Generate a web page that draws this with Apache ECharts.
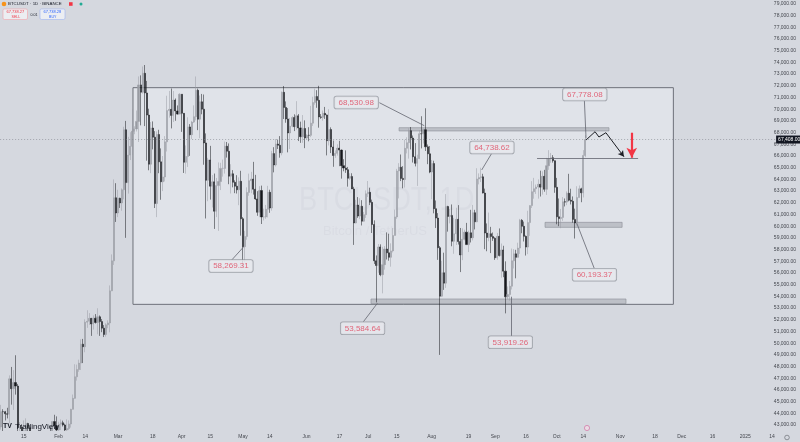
<!DOCTYPE html>
<html><head><meta charset="utf-8">
<script src="https://cdn.jsdelivr.net/npm/echarts@6/dist/echarts.min.js"></script>
<style>html,body{margin:0;padding:0;background:#d5d8df;}#c{width:800px;height:442px;}</style>
</head><body><div id="c"></div>
<script>
// ---- categories ----
const startDate = '2024-01-04';
const nDays = 379;
// ---- daily candles [open, high, low, close] ----
const jan = [[42845,44729,42613,44151],[44151,44357,42450,44145],[44145,44214,43397,43968],[43968,44480,43572,43929],[43929,47248,43175,46951],[46951,47972,44748,46110],[46110,47695,44300,46633],[46633,48969,45606,46339],[46339,46516,41500,42782],[42782,43257,42436,42847],[42847,43079,41720,41732],[41732,43400,41718,42511],[42511,43578,42050,43137],[43137,43198,42200,42776],[42776,42930,40683,41262],[41262,42196,40280,41618],[41618,41876,41446,41665],[41665,41889,41500,41545],[41545,41689,39431,39507],[39507,40129,38555,39845],[39845,40555,39484,40077],[40077,40300,39260,39934],[39934,42246,39822,41816],[41816,42200,41395,42120],[42120,42842,41620,42031],[42031,43305,41804,43302],[43302,43882,42683,42941],[42941,43745,42276,42580]];
const feb = [[42580,43285,41884,43082],[43082,43488,42574,43200],[43200,43380,42880,43011],[43011,43119,42222,42582],[42582,43494,42258,42708],[42708,43399,42574,43098],[43098,44396,42788,44349],[44349,45614,44331,45288],[45288,48200,45242,47132],[47132,48170,46800,47751],[47751,48592,47557,48300],[48300,50334,47710,49917],[49917,50368,48300,49699],[49699,52043,49225,51795],[51795,52816,51314,51880],[51880,52572,51566,52124],[52124,52163,50625,51642],[51642,52377,51163,52137],[52137,52488,51677,51774],[51774,52985,50760,52258],[52258,52371,50625,51849],[51849,52065,50940,51288],[51288,51548,50525,50745],[50745,51706,50561,51571],[51571,51955,51281,51733],[51733,54938,50931,54477],[54477,57588,54450,57037],[57037,64000,56691,62432],[62432,63676,60364,61130]];
const mar = [[61130,63114,60777,62387],[62387,62433,61561,61987],[61987,63231,61320,63113],[63113,68499,62300,68245],[68245,69000,59005,63725],[63725,67638,62787,66075],[66075,68029,65655,66823],[66823,69990,66082,68124],[68124,68541,67861,68313],[68313,69887,68094,68955],[68955,72800,67194,72078],[72078,72890,68620,71452],[71452,73650,71333,73072],[73072,73777,68555,71388],[71388,72419,65600,69499],[69499,70043,64780,65300],[65300,68904,64533,68393],[68393,68956,66566,67609],[67609,68124,61555,61937],[61937,68100,60775,67840],[67840,68240,64529,65501],[65501,66650,62260,63797],[63797,65999,63000,64209],[64209,67700,63825,67211],[67211,71150,66385,69880],[69880,71561,69280,69988],[69988,71769,68359,69469],[69469,71552,68903,70780],[70780,70916,69009,69850],[69850,70321,69540,69582],[69582,71366,69562,71280]];
const apr = [[71280,71288,68062,69649],[69649,69674,64550,65463],[65463,66903,64493,65963],[65963,69309,65064,68488],[68488,68725,66011,67820],[67820,69000,67447,68896],[68896,70326,68824,69360],[69360,72797,69043,71620],[71620,71758,68210,69146],[69146,71172,67518,70631],[70631,71305,69567,70006],[70006,71256,65254,67116],[67116,67931,60660,63924],[63924,65840,62134,65661],[65661,66867,62274,63419],[63419,64365,61600,63793],[63793,64499,59768,61277],[61277,64125,60775,63470],[63470,65450,59600,63818],[63818,65419,63090,64941],[64941,65695,64237,64941],[64941,67233,64500,66837],[66837,67199,65864,66407],[66407,67075,63589,64276],[64276,65297,62794,64481],[64481,64792,63322,63755],[63755,63923,62824,63419],[63419,64360,62793,63113],[63113,64174,61795,63841],[63841,64734,59191,60636]];
const may = [[60636,60780,56552,58254],[58254,59602,56937,59123],[59123,63320,58848,62889],[62889,64494,62599,63891],[63891,64646,62822,64031],[64031,65500,62700,63161],[63161,64390,62250,62334],[62334,62995,60888,61188],[61188,63421,60769,63049],[63049,63469,60187,60793],[60793,61500,60492,60793],[60793,61818,60632,61448],[61448,63450,60750,62901],[62901,63118,61142,61552],[61552,66444,61330,66206],[66206,66752,64602,65235],[65235,67451,65106,67024],[67024,67400,66600,66915],[66915,67700,65857,66274],[66274,71515,66060,71446],[71446,71979,69162,70148],[70148,70666,68842,69166],[69166,70096,66312,67969],[67969,69250,66600,68549],[68549,69400,68460,69290],[69290,69562,68128,68508],[68508,70687,68250,69436],[69436,69591,67277,68398],[68398,68935,67124,67652],[67652,69500,67128,68352],[68352,69044,66670,67540]];
const jun = [[67540,67861,67445,67766],[67766,68460,67257,67765],[67765,70288,67612,68809],[68809,71063,68567,70567],[70567,71758,70383,71082],[71082,71625,70119,70757],[70757,71997,68420,69342],[69342,69582,69180,69305],[69305,69887,69018,69648],[69648,70195,69172,69508],[69508,69549,66051,67313],[67313,69999,66902,68263],[68263,68449,66251,66773],[66773,67320,65078,66043],[66043,66478,65840,66228],[66228,66998,66034,66676],[66676,67298,65130,66505],[66505,66556,64066,65175],[65175,65727,64693,64974],[64974,66482,64559,64828],[64828,65066,63379,64096],[64096,64521,63943,64252],[64252,64525,63178,63180],[63180,63369,58402,60277],[60277,62258,60239,61806],[61806,62487,60712,60864],[60864,62389,60606,61706],[61706,62225,60063,60427],[60427,61224,60383,60986],[60986,63058,60712,62772]];
const jul = [[62772,63861,62497,62900],[62900,63288,61806,62041],[62041,62273,59419,60145],[60145,60498,56771,57042],[57042,57500,53485,56639],[56639,58475,56018,58230],[58230,58449,55724,55857],[55857,58236,54260,56714],[56714,58296,56289,58051],[58051,59470,57157,57725],[57725,59359,57052,57340],[57340,58536,56542,57889],[57889,59850,57756,59204],[59204,61420,59204,60797],[60797,64900,60632,64724],[64724,65388,62373,65043],[65043,66128,63854,64087],[64087,65133,63238,63987],[63987,67386,63300,66660],[66660,67598,66222,67139],[67139,68366,65777,68165],[68165,68474,66559,67532],[67532,67750,65441,65936],[65936,67102,65111,65372],[65372,66112,63442,65777],[65777,68200,65732,67907],[67907,69399,66650,67896],[67896,68318,67066,68249],[68249,70079,66428,66784],[66784,66984,65302,66188],[66188,66849,64530,64628]];
const aug = [[64628,65659,62302,65354],[65354,65596,61100,61498],[61498,62198,59850,60697],[60697,61117,57122,58161],[58161,58305,49000,54018],[54018,57040,53962,56022],[56022,57736,54558,55134],[55134,62745,54730,61685],[61685,61744,59535,60837],[60837,61470,60242,60923],[60923,61858,58286,58712],[58712,60711,57642,59346],[59346,61578,58392,60587],[60587,61800,58433,58683],[58683,59849,56078,57541],[57541,59817,57098,58874],[58874,59700,58785,59491],[59491,60284,58408,58427],[58427,59617,57787,59438],[59438,61400,58610,59013],[59013,61820,58783,61156],[61156,61400,59724,60375],[60375,64955,60342,64037],[64037,64513,63574,64157],[64157,65000,63773,64220],[64220,64481,62800,62834],[62834,63212,58034,59415],[59415,60235,57860,59034],[59034,61166,58713,59359],[59359,59944,57701,59123],[59123,59462,58744,58973]];
const sep = [[58973,59054,57118,57301],[57301,59425,57128,59132],[59132,59809,57415,57487],[57487,58519,55606,57970],[57970,58327,55643,56160],[56160,56995,52550,53962],[53962,54850,53745,54160],[54160,55318,53629,54869],[54869,58088,54591,57042],[57042,58044,56386,57635],[57635,57981,55545,57338],[57338,58588,57325,58132],[58132,60625,57632,60498],[60498,60610,59400,59993],[59993,60395,58692,59132],[59132,59210,57493,58213],[58213,61320,57610,60309],[60309,61786,59174,61759],[61759,63850,61555,62947],[62947,64133,62350,63201],[63201,63559,62758,63348],[63348,64000,62357,63578],[63578,64745,62538,63339],[63339,64688,62700,64262],[64262,64817,62947,63152],[63152,65839,62670,65173],[65173,66498,64819,65769],[65769,66260,65422,65858],[65858,66076,65432,65602],[65602,65618,62856,63327]];
const oct = [[63327,64130,60164,60805],[60805,62370,60000,60649],[60649,61477,59828,60753],[60753,62484,60459,62086],[62086,62370,61689,62058],[62058,62975,61798,62819],[62819,64478,62128,62224],[62224,63200,61860,62132],[62132,62543,60300,60582],[60582,61500,58946,60274],[60274,63417,60061,62445],[62445,63480,62445,63193],[63193,63285,62050,62851],[62851,66500,62457,66046],[66046,67778,65900,67408]];
const lastPrice = 67408;
// ---- axis ticks ----
const xTickDates = ['2024-01-15','2024-02-01','2024-02-14','2024-03-01','2024-03-18','2024-04-01','2024-04-15','2024-05-01','2024-05-14','2024-06-01','2024-06-17','2024-07-01','2024-07-15','2024-08-01','2024-08-19','2024-09-01','2024-09-16','2024-10-01','2024-10-14','2024-11-01','2024-11-18','2024-12-01','2024-12-16','2025-01-01','2025-01-14'];
const xTickLabels = ['15','Feb','14','Mar','18','Apr','15','May','14','Jun','17','Jul','15','Aug','19','Sep','16','Oct','14','Nov','18','Dec','16','2025','14'];
const yMin = 42000, yMax = 79000, yStep = 1000;
// ---- drawings (x = bar index from startDate, y = price) ----
const boxX = [64.3, 327.9], boxY = [71840, 53320];
const zoneX1 = [194.1, 180.4, 265.3], zoneX2 = [296.5, 304.8, 302.9];
const zoneTop = [68420, 53780, 60330], zoneBottom = [68140, 53380, 59900];
const targetX = [261.4, 310.7], targetY = 65830;
const pathX = [285.3, 289.7, 291.6, 295.0, 303.8], pathY = [67367, 68076, 67623, 67991, 65939];
const arrowX = 307.6, arrowY = [67990, 65850];
const noteText = ['58,269.31','53,584.64','68,530.98','64,738.62','53,919.26','60,193.37','67,778.08'];
const noteX = [112.1, 176.3, 173.2, 239.4, 248.4, 289.4, 284.7];
const noteY = [56598, 51273, 70572, 66726, 50076, 55854, 71256];
const leadX1 = [112.6, 176.7, 184.5, 239.3, 248.6, 289.3, 284.5];
const leadY1 = [57136, 51837, 70555, 66230, 50615, 56401, 70726];
const leadX2 = [118.1, 183.5, 206.4, 234.4, 248.6, 280.8, 285.3];
const leadY2 = [58196, 53409, 68589, 64803, 53974, 60247, 67512];

// ---- build ----
const dates = [];
const t0 = Date.parse(startDate + 'T00:00:00Z');
for (let i = 0; i < nDays; i++) dates.push(new Date(t0 + i * 86400000).toISOString().slice(0, 10));
const candles = [].concat(jan, feb, mar, apr, may, jun, jul, aug, sep, oct).map(r => [r[0], r[3], r[2], r[1]]);
const tickMap = {};
xTickDates.forEach((d, i) => tickMap[d] = xTickLabels[i]);
const fmt = v => v.toLocaleString('en-US', {minimumFractionDigits: 2, maximumFractionDigits: 2});

const lineData = [];
for (let i = 0; i < noteX.length; i++) lineData.push([{coord: [leadX1[i], leadY1[i]]}, {coord: [leadX2[i], leadY2[i]]}]);
lineData.push([{coord: [targetX[0], targetY]}, {coord: [targetX[1], targetY]}]);
for (let i = 0; i < pathX.length - 1; i++) {
  const last = i === pathX.length - 2;
  lineData.push([{coord: [pathX[i], pathY[i]], lineStyle: {color: '#1c1e24', width: 1}},
                 {coord: [pathX[i + 1], pathY[i + 1]], symbol: last ? 'arrow' : 'none', symbolSize: [5, 6], lineStyle: {color: '#1c1e24', width: 1}}]);
}
lineData.push([{coord: [arrowX, arrowY[0]], lineStyle: {color: '#f23645', width: 2.2}},
               {coord: [arrowX, arrowY[1]], symbol: 'arrow', symbolSize: [8, 10], itemStyle: {color: '#f23645'}, lineStyle: {color: '#f23645', width: 2.2}}]);

const zones = zoneX1.map((x, i) => [{coord: [x, zoneTop[i]]}, {coord: [zoneX2[i], zoneBottom[i]]}]);

const FONT = 'Liberation Sans, Arial, sans-serif';
const chart = echarts.init(document.getElementById('c'), null, {renderer: 'canvas'});
chart.setOption({
  animation: false,
  backgroundColor: '#d5d8df',
  textStyle: {fontFamily: FONT},
  grid: {left: 0.125, right: 22.9, top: 3.9, bottom: 5.2},
  xAxis: [{
    type: 'category', data: dates, boundaryGap: true, z: 20,
    axisLine: {show: false}, axisTick: {show: false}, splitLine: {show: false},
    axisLabel: {interval: (i, v) => tickMap[v] !== undefined, formatter: v => tickMap[v] || '',
      fontSize: 5, color: '#45484f', margin: -3, hideOverlap: false}
  }, {
    type: 'value', min: -0.5, max: nDays - 0.5, show: false
  }],
  yAxis: {
    type: 'value', position: 'right', min: yMin, max: yMax, interval: yStep, scale: true,
    axisLine: {show: false}, axisTick: {show: false}, splitLine: {show: false},
    axisLabel: {fontSize: 5, color: '#45484f', align: 'right', margin: 19, showMinLabel: false, formatter: v => fmt(v)}
  },
  series: [{
    type: 'line', xAxisIndex: 1, data: [[boxX[0], boxY[0]]], showSymbol: false, silent: true, z: 1,
    markArea: {silent: true, itemStyle: {color: 'rgba(236,238,243,0.5)', borderColor: '#6e717a', borderWidth: 1},
      data: [[{coord: [boxX[0], boxY[0]]}, {coord: [boxX[1], boxY[1]]}]]}
  }, {
    type: 'candlestick', data: candles, barWidth: 1.6, z: 2,
    itemStyle: {color: '#989ba2', color0: '#14161b', borderColor: '#989ba2', borderColor0: '#14161b', borderWidth: 0.5},
    markLine: {silent: true, symbol: ['none', 'none'], data: [{yAxis: lastPrice}],
      lineStyle: {type: [1, 2], color: '#80838c', width: 0.6},
      label: {position: 'end', distance: -1, formatter: () => fmt(lastPrice), backgroundColor: '#131722', color: '#ffffff', fontSize: 5, padding: [1.5, 2]}}
  }, {
    type: 'scatter', xAxisIndex: 1, z: 5, symbolSize: 1, itemStyle: {color: 'rgba(0,0,0,0)'},
    data: noteX.map((x, i) => [x, noteY[i], noteText[i]]),
    label: {show: true, position: 'inside', formatter: p => p.data[2], color: '#e0455d', fontSize: 8,
      backgroundColor: '#e7e9ee', borderColor: '#8f929a', borderWidth: 0.8, borderRadius: 2, padding: [2, 4]},
    markLine: {silent: true, symbol: ['none', 'none'], label: {show: false},
      lineStyle: {type: 'solid', color: '#62656e', width: 0.8}, data: lineData},
    markArea: {silent: true, itemStyle: {color: 'rgba(165,168,176,0.6)', borderColor: '#8a8d95', borderWidth: 0.6}, data: zones}
  }],
  graphic: [
    {type: 'text', left: 299, top: 184, z: 0, scaleX: 0.8, style: {text: 'BTCUSDT, 1D', font: '34px ' + FONT, fill: 'rgba(110,115,128,0.13)'}},
    {type: 'text', left: 323, top: 225, z: 0, style: {text: 'Bitcoin / TetherUS', font: '13px ' + FONT, fill: 'rgba(110,115,128,0.13)'}},
    {type: 'rect', shape: {x: 0, y: 431, width: 777, height: 11}, z: 10, style: {fill: '#d5d8df'}},
    {type: 'circle', shape: {cx: 4, cy: 4, r: 2.3}, style: {fill: '#f7931a'}},
    {type: 'text', left: 8, top: 2, style: {text: 'BTCUSDT · 1D · BINANCE', font: '4.4px ' + FONT, fill: '#131722'}},
    {type: 'rect', shape: {x: 69, y: 2.2, width: 3.6, height: 3.6}, style: {fill: '#f23645'}},
    {type: 'circle', shape: {cx: 81, cy: 4, r: 1.5}, style: {fill: '#22ab94'}},
    {type: 'rect', shape: {x: 3, y: 9, width: 24.5, height: 10.5, r: 1.5}, style: {fill: '#eceef2', stroke: '#f2a3aa', lineWidth: 0.6}},
    {type: 'text', left: 6.5, top: 10.2, style: {text: '67,738.27', font: '4px ' + FONT, fill: '#f23645'}},
    {type: 'text', left: 11.5, top: 14.8, style: {text: 'SELL', font: '3.6px ' + FONT, fill: '#f23645'}},
    {type: 'text', left: 30.5, top: 12.5, style: {text: '0.01', font: '3.6px ' + FONT, fill: '#131722'}},
    {type: 'rect', shape: {x: 40, y: 9, width: 25, height: 10.5, r: 1.5}, style: {fill: '#eceef2', stroke: '#9db3f0', lineWidth: 0.6}},
    {type: 'text', left: 43.5, top: 10.2, style: {text: '67,738.28', font: '4px ' + FONT, fill: '#2962ff'}},
    {type: 'text', left: 49, top: 14.8, style: {text: 'BUY', font: '3.6px ' + FONT, fill: '#2962ff'}},
    {type: 'text', left: 3, top: 423, z: 12, style: {text: 'TV', font: 'bold 7px ' + FONT, fill: '#131722'}},
    {type: 'text', left: 15, top: 422.5, z: 12, style: {text: 'TradingView', font: '8px ' + FONT, fill: '#131722'}},
    {type: 'circle', shape: {cx: 587, cy: 428, r: 2.6}, z: 12, style: {fill: '#eadbe4', stroke: '#d173a4', lineWidth: 0.7}},
    {type: 'circle', shape: {cx: 787, cy: 437.5, r: 2.3}, z: 12, style: {fill: 'none', stroke: '#45484f', lineWidth: 0.5}}
  ]
});
</script></body></html>
